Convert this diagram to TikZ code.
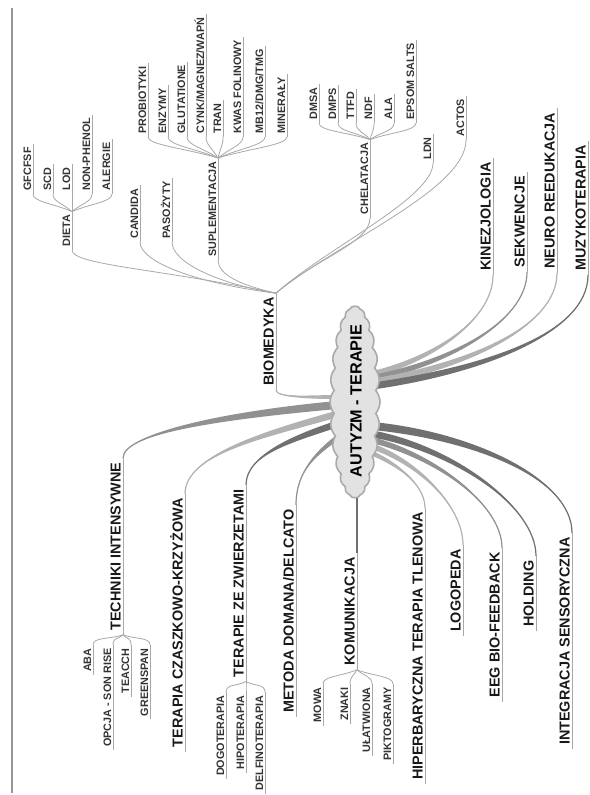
\documentclass[tikz,border=0pt]{standalone}
\usepackage{fontspec}
\setmainfont{Liberation Sans}
\usetikzlibrary{calc,shapes.symbols,backgrounds}

\definecolor{framegray}{RGB}{150,150,150}
\definecolor{twiggray}{RGB}{168,168,168}
\definecolor{lightbranch}{RGB}{178,178,178}
\definecolor{midbranch}{RGB}{145,145,145}
\definecolor{darkbranch}{RGB}{112,112,112}
\definecolor{cloudfill}{RGB}{226,226,226}
\definecolor{cloudedge}{RGB}{170,170,170}

\tikzset{
  topic/.style={rotate=90, font=\fontsize{7.2}{8}\selectfont\bfseries, text=black!90,
    inner xsep=2pt, inner ysep=1pt, text depth=0pt},
  leaf/.style={rotate=90, font=\fontsize{5.4}{6}\selectfont\bfseries, text=black!80,
    inner xsep=1.5pt, inner ysep=0.8pt, text depth=0pt},
  topicline/.style={draw=twiggray, line width=0.5pt},
  leafline/.style={draw=twiggray, line width=0.4pt},
}

\begin{document}
\begin{tikzpicture}[x=0.5pt, y=-0.5pt]
  \useasboundingbox (0,0) rectangle (589,795);
  \draw[framegray, line width=1pt] (12,8) -- (12,793);

  % centre
  \node[cloud, cloud puffs=26, cloud puff arc=80, cloud ignores aspect, rotate=90,
        minimum width=96pt, minimum height=25pt, fill=cloudfill, draw=cloudedge,
        line width=0.8pt] (autyzm) at (355,402) {};
  \node[rotate=90, font=\fontsize{8.1}{9}\selectfont\bfseries] (autyzmtxt) at (356,401) {AUTYZM - TERAPIE};

  % upper half
  \node[topic, anchor=south west] (biomedyka) at (276,390) {BIOMEDYKA};
  \node[topic, anchor=south west] (kinezjologia) at (493,275) {KINEZJOLOGIA};
  \node[topic, anchor=south west] (sekwencje) at (527,272) {SEKWENCJE};
  \node[topic, anchor=south west] (neuro) at (557,273) {NEURO REEDUKACJA};
  \node[topic, anchor=south west] (muzyko) at (588,275) {MUZYKOTERAPIA};

  % lower half
  \node[topic, anchor=south east] (techniki) at (123,458) {TECHNIKI INTENSYWNE};
  \node[topic, anchor=south east] (czaszkowo) at (185,494) {TERAPIA CZASZKOWO-KRZYŻOWA};
  \node[topic, anchor=south east] (zwierzeta) at (246,485) {TERAPIE ZE ZWIERZETAMI};
  \node[topic, anchor=south east] (domana) at (296,505) {METODA DOMANA/DELCATO};
  \node[topic, anchor=south east] (komunikacja) at (357,553) {KOMUNIKACJA};
  \node[topic, anchor=south east] (hiperbaryczna) at (425,508) {HIPERBARYCZNA TERAPIA TLENOWA};
  \node[topic, anchor=south east] (logopeda) at (463,545) {LOGOPEDA};
  \node[topic, anchor=south east] (eeg) at (502,548) {EEG BIO-FEEDBACK};
  \node[topic, anchor=south east] (holding) at (536,556) {HOLDING};
  \node[topic, anchor=south east] (integracja) at (572,533) {INTEGRACJA SENSORYCZNA};

  % biomedyka
  \node[leaf, anchor=south west] (dieta) at (72,250) {DIETA};
  \node[leaf, anchor=south west] (candida) at (140,242) {CANDIDA};
  \node[leaf, anchor=south west] (pasozyty) at (172,242) {PASOŻYTY};
  \node[leaf, anchor=south west] (suplementacja) at (218,260) {SUPLEMENTACJA};
  \node[leaf, anchor=south west] (chelatacja) at (370,218) {CHELATACJA};
  \node[leaf, anchor=south west] (ldn) at (433,163) {LDN};
  \node[leaf, anchor=south west] (actos) at (466,140) {ACTOS};

  \foreach \n/\x/\t in {gfcfsf/33/GFCFSF, scd/53/SCD, lod/72/LOD,
      nonphenol/92/NON-PHENOL, alergie/112/ALERGIE}
    \node[leaf, anchor=south west] (\n) at (\x,194) {\t};
  \foreach \n/\x/\t in {probiotyki/148/PROBIOTYKI, enzymy/168/ENZYMY,
      glutatione/187/GLUTATIONE, cynk/206/{CYNK/MAGNEZ/WAPŃ}, tran/223/TRAN,
      kwas/243/KWAS FOLINOWY, mb12/265/{MB12/DMG/TMG}, mineraly/287/MINERAŁY}
    \node[leaf, anchor=south west] (\n) at (\x,137) {\t};
  \foreach \n/\x/\t in {dmsa/319/DMSA, dmps/338/DMPS, ttfd/356/TTFD,
      ndf/374/NDF, ala/394/ALA, epsom/416/EPSOM SALTS}
    \node[leaf, anchor=south west] (\n) at (\x,123) {\t};

  % lower children
  \foreach \n/\x/\t in {aba/93/ABA, opcja/113/OPCJA - SON RISE,
      teacch/131/TEACCH, greenspan/150/GREENSPAN}
    \node[leaf, anchor=south east] (\n) at (\x,645) {\t};
  \foreach \n/\x/\t in {dogoterapia/226/DOGOTERAPIA, hipoterapia/246/HIPOTERAPIA,
      delfinoterapia/265/DELFINOTERAPIA}
    \node[leaf, anchor=south east] (\n) at (\x,692) {\t};
  \foreach \n/\x/\t in {mowa/323/MOWA, znaki/350/ZNAKI,
      ulatwiona/372/UŁATWIONA, piktogramy/393/PIKTOGRAMY}
    \node[leaf, anchor=south east] (\n) at (\x,684) {\t};

  % underlines
  \foreach \n in {biomedyka,kinezjologia,sekwencje,neuro,muzyko,techniki,czaszkowo,
      zwierzeta,domana,komunikacja,hiperbaryczna,logopeda,eeg,holding,integracja}
    \draw[topicline] (\n.south west) -- (\n.south east);
  \foreach \n in {dieta,candida,pasozyty,suplementacja,chelatacja,ldn,actos,
      gfcfsf,scd,lod,nonphenol,alergie,probiotyki,enzymy,glutatione,cynk,tran,
      kwas,mb12,mineraly,dmsa,dmps,ttfd,ndf,ala,epsom,aba,opcja,teacch,greenspan,
      dogoterapia,hipoterapia,delfinoterapia,mowa,znaki,ulatwiona,piktogramy}
    \draw[leafline] (\n.south west) -- (\n.south east);

  \begin{pgfonlayer}{background}
    % branches from the cloud
    \foreach \dx/\dy/\a/\b/\n/\col/\w in {
        18/-28/{60,-15}/{0,45}/kinezjologia.south west/lightbranch/3,
        18/-24/{75,-15}/{0,50}/sekwencje.south west/midbranch/3,
        18/-20/{90,-15}/{0,55}/neuro.south west/lightbranch/3.5,
        18/-16/{105,-15}/{0,60}/muzyko.south west/darkbranch/3.5,
        14/50/{25,10}/{0,-25}/hiperbaryczna.south east/lightbranch/2.5,
        16/44/{45,15}/{0,-40}/logopeda.south east/lightbranch/3,
        17/38/{60,15}/{0,-45}/eeg.south east/midbranch/3,
        18/32/{80,15}/{0,-50}/holding.south east/darkbranch/3.5,
        18/24/{100,10}/{0,-55}/integracja.south east/darkbranch/4,
        -18/-5/{-25,0}/{0,8}/biomedyka.south west/lightbranch/2,
        -18/3/{-110,10}/{0,-25}/techniki.south east/midbranch/4,
        -18/12/{-70,20}/{0,-40}/czaszkowo.south east/lightbranch/3.5,
        -18/22/{-45,15}/{0,-30}/zwierzeta.south east/darkbranch/3.5,
        -17/35/{-20,15}/{0,-35}/domana.south east/midbranch/3}
    {
      \fill[\col] ($(autyzm)+(\dx,\dy-\w)$) .. controls +(\a) and +(\b) .. (\n)
        .. controls +(\b) and +(\a) .. ($(autyzm)+(\dx,\dy+\w)$) -- cycle;
      \draw[\col, line width=0.6pt] ($(autyzm)+(\dx,\dy)$) .. controls +(\a) and +(\b) .. (\n);
    }
    \draw[darkbranch, line width=0.7pt] ($(autyzm)+(2,90)$) -- (komunikacja.south east);

    % biomedyka branches
    \foreach \n/\a/\b in {dieta/{-120,-25}/{0,15}, candida/{-80,-10}/{0,20},
        pasozyty/{-60,-10}/{0,20}, suplementacja/{-35,-8}/{0,15},
        chelatacja/{40,-35}/{0,25}, ldn/{50,-45}/{0,35}, actos/{60,-50}/{0,50}}
      \draw[leafline] (biomedyka.south east) .. controls +(\a) and +(\b) .. (\n.south west);

    % fans
    \foreach \p/\c in {dieta/gfcfsf, dieta/scd, dieta/lod, dieta/nonphenol, dieta/alergie,
        suplementacja/probiotyki, suplementacja/enzymy, suplementacja/glutatione,
        suplementacja/cynk, suplementacja/tran, suplementacja/kwas, suplementacja/mb12,
        suplementacja/mineraly, chelatacja/dmsa, chelatacja/dmps, chelatacja/ttfd,
        chelatacja/ndf, chelatacja/ala, chelatacja/epsom}
      \draw[leafline] (\p.south east) .. controls ($(\p.south east)!0.45!(\c.south west)$)
        and ($(\c.south west)+(0,8)$) .. (\c.south west);
    \foreach \p/\c in {techniki/aba, techniki/opcja, techniki/teacch, techniki/greenspan,
        zwierzeta/dogoterapia, zwierzeta/hipoterapia, zwierzeta/delfinoterapia,
        komunikacja/mowa, komunikacja/znaki, komunikacja/ulatwiona, komunikacja/piktogramy}
      \draw[leafline] (\p.south west) .. controls ($(\p.south west)!0.45!(\c.south east)$)
        and ($(\c.south east)+(0,-8)$) .. (\c.south east);
  \end{pgfonlayer}
\end{tikzpicture}
\end{document}
